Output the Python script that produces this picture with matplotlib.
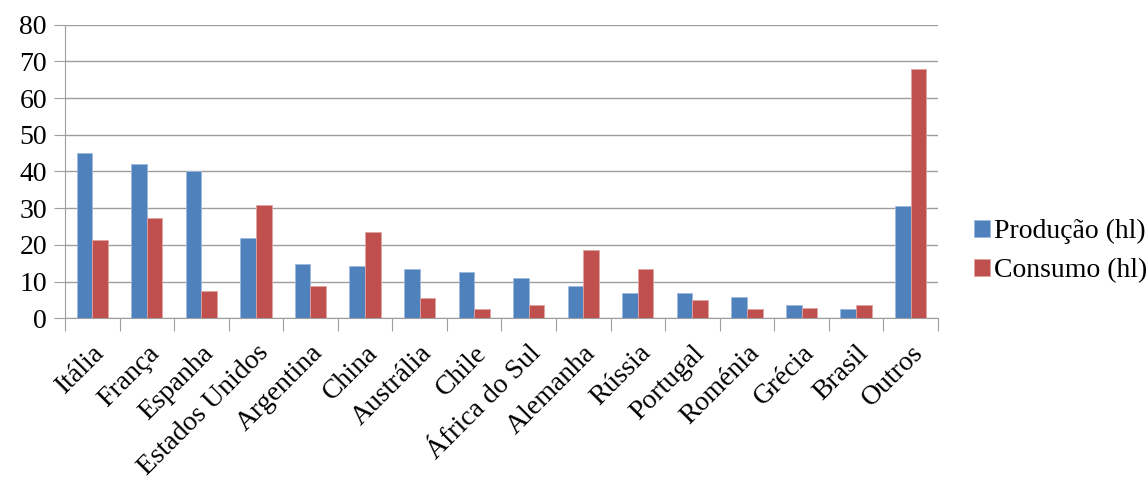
import matplotlib.pyplot as plt
import numpy as np

paises = ["Itália", "França", "Espanha", "Estados Unidos", "Argentina", "China",
          "Austrália", "Chile", "África do Sul", "Alemanha", "Rússia", "Portugal",
          "Roménia", "Grécia", "Brasil", "Outros"]
producao = [45.0, 42.1, 40.0, 21.8, 14.8, 14.2, 13.4, 12.7, 11.0, 8.9, 6.8, 6.8,
            5.7, 3.6, 2.5, 30.5]
consumo = [21.2, 27.4, 7.4, 30.9, 8.9, 23.6, 5.4, 2.5, 3.6, 18.7, 13.4, 5.0,
           2.5, 2.9, 3.6, 68.0]
y_ticks = [0, 10, 20, 30, 40, 50, 60, 70, 80]

plt.rcParams['font.family'] = ['Liberation Serif', 'DejaVu Serif']

fig = plt.figure(figsize=(11.48, 4.84), dpi=100)
ax = fig.add_axes([0.0566, 0.3424, 0.7604, 0.6066])

x = np.arange(len(paises))
w = 1 / 3.5
ax.bar(x - w / 2, producao, w, color="#4F81BD", edgecolor="#9DB9DC", linewidth=0.6,
       label="Produção (hl)", zorder=3)
ax.bar(x + w / 2, consumo, w, color="#C0504D", edgecolor="#E0A3A1", linewidth=0.6,
       label="Consumo (hl)", zorder=3)

ax.set_xlim(-0.5, len(paises) - 0.5)
ax.set_ylim(0, 80)
ax.set_yticks(y_ticks)
ax.yaxis.grid(True, color="#9E9E9E", linewidth=1.0, zorder=0)

gray = "#9E9E9E"
for s in ["top", "right"]:
    ax.spines[s].set_visible(False)
ax.spines["left"].set_color(gray)
ax.spines["bottom"].set_color(gray)
ax.tick_params(axis="y", length=8, color=gray, labelsize=20, pad=5)

# category boundaries as major ticks, labels on minor ticks
ax.set_xticks(np.arange(-0.5, len(paises), 1.0))
ax.set_xticklabels([])
ax.set_xticks(x, minor=True)
ax.set_xticklabels(paises, minor=True, rotation=45, ha="right",
                   rotation_mode="anchor", fontsize=20)
ax.tick_params(axis="x", which="major", length=9, color=gray)
ax.tick_params(axis="x", which="minor", length=0, pad=16)

ax.legend(loc="center left", bbox_to_anchor=(0.848, 0.481),
          bbox_transform=fig.transFigure, frameon=False, fontsize=20,
          handlelength=0.6, handleheight=0.6, handletextpad=0.15,
          labelspacing=0.5, borderaxespad=0, borderpad=0)

fig.savefig("out.png", dpi=100)
